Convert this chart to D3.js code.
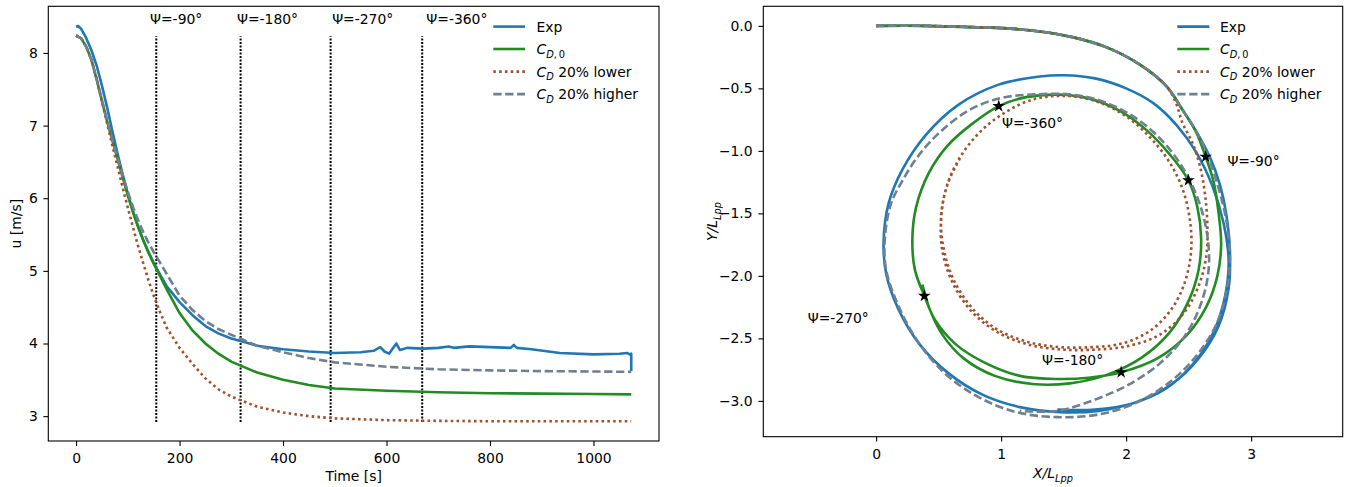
<!DOCTYPE html>
<html>
<head>
<meta charset="utf-8">
<script src="https://cdn.jsdelivr.net/npm/d3@7"></script>
<style>
  body { margin: 0; background: #fff; }
  text { font-family: "DejaVu Sans", sans-serif; }
</style>
</head>
<body>
<svg id="chart" width="1348" height="487"></svg>
<script>
// ---------- surge speed over time ----------
const simT   = [0,10,20,30,40,50,60,70,80,90,100,110,120,130,140,150,160,175,200,225,250,275,300,350,400,450,500,600,700,800,900,1000,1073];
const cd0U   = [8.24,8.20,8.08,7.90,7.63,7.34,7.06,6.80,6.54,6.29,6.04,5.81,5.60,5.42,5.25,5.10,4.96,4.75,4.42,4.18,4.00,3.86,3.75,3.60,3.50,3.43,3.38,3.35,3.33,3.315,3.31,3.305,3.30];
const lowU   = [8.24,8.20,8.08,7.90,7.63,7.33,7.03,6.73,6.44,6.15,5.87,5.60,5.34,5.10,4.87,4.66,4.47,4.22,3.94,3.72,3.52,3.37,3.27,3.13,3.05,3.00,2.97,2.945,2.935,2.93,2.93,2.93,2.93];
const highU  = [8.24,8.20,8.08,7.90,7.64,7.35,7.07,6.81,6.56,6.32,6.09,5.88,5.70,5.53,5.39,5.26,5.14,4.96,4.66,4.46,4.31,4.20,4.12,3.97,3.88,3.80,3.74,3.68,3.645,3.63,3.62,3.615,3.61];
const expT   = [0,4,10,20,30,40,50,60,70,80,90,100,110,120,130,140,150,160,175,200,225,250,275,300,325,350,400,450,500,550,575,588,596,605,612,619,626,640,670,700,720,730,760,800,840,846,852,880,935,1000,1050,1065,1070,1073,1073];
const expU   = [8.36,8.37,8.33,8.20,8.03,7.82,7.55,7.25,6.93,6.62,6.33,6.06,5.82,5.61,5.42,5.26,5.11,4.98,4.79,4.57,4.39,4.24,4.14,4.07,4.02,3.97,3.92,3.89,3.87,3.88,3.90,3.95,3.89,3.86,3.93,4.00,3.91,3.94,3.93,3.94,3.96,3.94,3.96,3.95,3.94,3.98,3.94,3.92,3.87,3.85,3.86,3.87,3.85,3.86,3.62];

// heading marks
const psiT      = [155, 318, 492, 669];
const psiLabels = ["Ψ=-90°", "Ψ=-180°", "Ψ=-270°", "Ψ=-360°"];
const psiLabelT = [143, 311, 495, 677];
const psiLabelU = 8.4;
const psiLineU  = [2.92, 8.23];

const timeTicks = [0, 200, 400, 600, 800, 1000];
const uTicks    = [3, 4, 5, 6, 7, 8];

// ---------- trajectories (X/Lpp, Y/Lpp) ----------
const startPath = [[0,0],[0.4,0],[0.77,-0.01],[1.05,-0.02],[1.31,-0.045],[1.57,-0.09],[1.84,-0.17],[2.11,-0.31],[2.32,-0.48]];
const expPath = [[2.45,-0.67],[2.57,-0.86],[2.67,-1.05],[2.75,-1.27],[2.80,-1.5],[2.83,-1.8],[2.82,-2.1],[2.74,-2.4],[2.58,-2.66],[2.36,-2.87],[2.08,-3.01],[1.78,-3.08],[1.47,-3.09],[1.15,-3.05],[0.85,-2.95],[0.58,-2.78],[0.35,-2.55],[0.18,-2.27],[0.08,-1.98],[0.06,-1.72],[0.10,-1.42],[0.21,-1.15],[0.40,-0.87],[0.66,-0.63],[0.98,-0.47],[1.31,-0.405],[1.5,-0.395],[1.75,-0.42],[2.0,-0.5],[2.22,-0.62],[2.40,-0.79],[2.56,-1.01],[2.69,-1.28],[2.78,-1.58],[2.82,-1.88],[2.79,-2.17],[2.70,-2.45],[2.54,-2.7],[2.32,-2.9],[2.05,-3.02],[1.75,-3.07],[1.45,-3.07]];
const cd0Path = [[2.45,-0.67],[2.56,-0.85],[2.636,-1.047],[2.70,-1.25],[2.74,-1.5],[2.76,-1.75],[2.73,-2.0],[2.64,-2.25],[2.48,-2.48],[2.25,-2.66],[1.96,-2.771],[1.7,-2.815],[1.45,-2.825],[1.15,-2.80],[0.88,-2.70],[0.64,-2.55],[0.47,-2.35],[0.386,-2.16],[0.31,-1.95],[0.29,-1.7],[0.32,-1.45],[0.42,-1.18],[0.57,-0.96],[0.76,-0.79],[0.981,-0.642],[1.2,-0.57],[1.45,-0.55],[1.7,-0.58],[1.95,-0.68],[2.17,-0.84],[2.35,-1.03],[2.498,-1.235],[2.57,-1.45],[2.60,-1.7],[2.58,-1.95],[2.50,-2.2],[2.35,-2.45],[2.13,-2.65],[1.85,-2.79],[1.55,-2.86],[1.25,-2.865],[0.95,-2.80],[0.70,-2.66],[0.53,-2.47],[0.43,-2.27],[0.37,-2.07]];
const lowPath = [[2.40,-0.62],[2.45,-0.775],[2.53,-0.935],[2.59,-1.12],[2.63,-1.34],[2.65,-1.6],[2.64,-1.85],[2.58,-2.08],[2.46,-2.3],[2.27,-2.47],[2.02,-2.56],[1.75,-2.59],[1.5,-2.59],[1.22,-2.55],[0.97,-2.45],[0.76,-2.28],[0.61,-2.05],[0.53,-1.8],[0.52,-1.55],[0.56,-1.3],[0.66,-1.07],[0.82,-0.86],[1.02,-0.7],[1.25,-0.59],[1.5,-0.56],[1.75,-0.6],[1.98,-0.71],[2.18,-0.88],[2.34,-1.08],[2.45,-1.3],[2.51,-1.55],[2.52,-1.8],[2.47,-2.05],[2.36,-2.27],[2.19,-2.44],[1.97,-2.54],[1.72,-2.57],[1.47,-2.57],[1.22,-2.53],[0.97,-2.43],[0.77,-2.26],[0.62,-2.03],[0.54,-1.78],[0.52,-1.52],[0.57,-1.27],[0.67,-1.06]];
const highPath = [[2.45,-0.67],[2.57,-0.86],[2.66,-1.06],[2.74,-1.3],[2.80,-1.55],[2.83,-1.8],[2.81,-2.08],[2.73,-2.37],[2.57,-2.63],[2.35,-2.85],[2.07,-3.02],[1.77,-3.11],[1.45,-3.13],[1.12,-3.09],[0.82,-2.97],[0.55,-2.78],[0.33,-2.52],[0.17,-2.22],[0.08,-1.95],[0.07,-1.7],[0.12,-1.42],[0.21,-1.24],[0.33,-1.05],[0.50,-0.86],[0.75,-0.67],[1.01,-0.575],[1.28,-0.548],[1.55,-0.548],[1.8,-0.6],[2.05,-0.72],[2.27,-0.9],[2.45,-1.13],[2.58,-1.4],[2.65,-1.68],[2.66,-1.95],[2.60,-2.22],[2.47,-2.48],[2.27,-2.7],[2.02,-2.87],[1.75,-2.99],[1.45,-3.08],[1.15,-3.08]];

const starPts  = [[2.636,-1.047],[1.96,-2.771],[0.386,-2.16],[0.981,-0.642],[2.498,-1.235]];
const trajLabels = ["Ψ=-90°", "Ψ=-180°", "Ψ=-270°", "Ψ=-360°"];
const trajLabelPos = [[2.81,-1.125],[1.328,-2.713],[-0.547,-2.378],[1.007,-0.815]];

const xTicksR = [0, 1, 2, 3];
const yTicksR = [0, -0.5, -1, -1.5, -2, -2.5, -3];

// ---------- styles ----------
const C = { exp: "#1f77b4", cd0: "#228b22", low: "#a0522d", high: "#708090" };
const FS = 13.9;
const LW = 2.6;
const DOT = "2.6,3.2";
const DASH = "8.3,3.6";
const svg = d3.select("#chart");

function padded(lo, hi) { const d = (hi - lo) * 0.05; return [lo - d, hi + d]; }

function styleAxis(g) {
  g.select(".domain").remove();
  g.selectAll(".tick line").attr("stroke", "#000").attr("stroke-width", 1.1);
  g.selectAll(".tick text").attr("fill", "#000").attr("font-size", FS)
    .attr("font-family", "DejaVu Sans, sans-serif");
}

function frame(box) {
  svg.append("rect").attr("x", box.x0).attr("y", box.y0)
    .attr("width", box.x1 - box.x0).attr("height", box.y1 - box.y0)
    .attr("fill", "none").attr("stroke", "#000").attr("stroke-width", 1.1);
}

function subLabel(sel, main, sub) {
  sel.append("tspan").attr("font-style", "italic").text(main);
  sel.append("tspan").attr("dy", 3.6).attr("font-size", 9.8).attr("font-style", "italic").text(sub);
}

// ================= left panel =================
const L = { x0: 48.3, x1: 659, y0: 6.3, y1: 441 };
const tAll = simT.concat(expT);
const uAll = cd0U.concat(lowU, highU, expU);
const xL = d3.scaleLinear().domain(padded(d3.min(tAll), d3.max(tAll))).range([L.x0, L.x1]);
const yL = d3.scaleLinear().domain(padded(d3.min(uAll), d3.max(uAll))).range([L.y1, L.y0]);

svg.append("g").attr("transform", `translate(0,${L.y1})`)
  .call(d3.axisBottom(xL).tickValues(timeTicks).tickSize(4.9).tickPadding(7.2).tickFormat(d3.format("d")))
  .call(styleAxis);
svg.append("g").attr("transform", `translate(${L.x0},0)`)
  .call(d3.axisLeft(yL).tickValues(uTicks).tickSize(4.9).tickPadding(5.5).tickFormat(d3.format("d")))
  .call(styleAxis);

const lineL = (ts, us) => d3.line().x((d, i) => xL(ts[i])).y((d, i) => yL(us[i]))(us);

const gL = svg.append("g");
// heading markers
psiT.forEach((t, i) => {
  gL.append("line").attr("x1", xL(t)).attr("x2", xL(t))
    .attr("y1", yL(psiLineU[0])).attr("y2", yL(psiLineU[1]))
    .attr("stroke", "#000").attr("stroke-width", 2).attr("stroke-dasharray", "2,1.5");
  gL.append("text").attr("x", xL(psiLabelT[i])).attr("y", yL(psiLabelU))
    .attr("font-size", FS).attr("fill", "#000").text(psiLabels[i]);
});

gL.append("path").attr("d", lineL(expT, expU)).attr("fill", "none")
  .attr("stroke", C.exp).attr("stroke-width", LW).attr("stroke-linejoin", "round");
gL.append("path").attr("d", lineL(simT, cd0U)).attr("fill", "none")
  .attr("stroke", C.cd0).attr("stroke-width", LW);
gL.append("path").attr("d", lineL(simT, lowU)).attr("fill", "none")
  .attr("stroke", C.low).attr("stroke-width", LW).attr("stroke-dasharray", DOT);
gL.append("path").attr("d", lineL(simT, highU)).attr("fill", "none")
  .attr("stroke", C.high).attr("stroke-width", LW).attr("stroke-dasharray", DASH);

frame(L);

svg.append("text").attr("x", (L.x0 + L.x1) / 2).attr("y", 480.5).attr("text-anchor", "middle")
  .attr("font-size", FS).attr("fill", "#000").text("Time [s]");
svg.append("text").attr("transform", `translate(20.5,${(L.y0 + L.y1) / 2}) rotate(-90)`)
  .attr("text-anchor", "middle").attr("font-size", FS).attr("fill", "#000").text("u [m/s]");

// ================= right panel =================
const R = { x0: 763.3, x1: 1342.7, y0: 6.3, y1: 436.7 };
const allPts = startPath.concat(expPath, cd0Path, lowPath, highPath);
const yDom = padded(d3.min(allPts, d => d[1]), d3.max(allPts, d => d[1]));
const k = (R.y1 - R.y0) / (yDom[1] - yDom[0]);           // equal aspect
const xMid = (d3.min(allPts, d => d[0]) + d3.max(allPts, d => d[0])) / 2;
const halfX = (R.x1 - R.x0) / k / 2;
const xR = d3.scaleLinear().domain([xMid - halfX, xMid + halfX]).range([R.x0, R.x1]);
const yR = d3.scaleLinear().domain(yDom).range([R.y1, R.y0]);

svg.append("g").attr("transform", `translate(0,${R.y1})`)
  .call(d3.axisBottom(xR).tickValues(xTicksR).tickSize(4.9).tickPadding(7.2).tickFormat(d3.format("d")))
  .call(styleAxis);
svg.append("g").attr("transform", `translate(${R.x0},0)`)
  .call(d3.axisLeft(yR).tickValues(yTicksR).tickSize(4.9).tickPadding(5.8).tickFormat(d3.format(".1f")))
  .call(styleAxis);

const lineR = d3.line().x(d => xR(d[0])).y(d => yR(d[1])).curve(d3.curveCatmullRom.alpha(0.5));
const gR = svg.append("g");
gR.append("path").attr("d", lineR(startPath.concat(expPath))).attr("fill", "none")
  .attr("stroke", C.exp).attr("stroke-width", LW);
gR.append("path").attr("d", lineR(startPath.concat(cd0Path))).attr("fill", "none")
  .attr("stroke", C.cd0).attr("stroke-width", LW);
gR.append("path").attr("d", lineR(startPath.concat(lowPath))).attr("fill", "none")
  .attr("stroke", C.low).attr("stroke-width", LW).attr("stroke-dasharray", DOT);
gR.append("path").attr("d", lineR(startPath.concat(highPath))).attr("fill", "none")
  .attr("stroke", C.high).attr("stroke-width", LW).attr("stroke-dasharray", DASH);

gR.selectAll("path.star").data(starPts).join("path").attr("class", "star")
  .attr("transform", d => `translate(${xR(d[0])},${yR(d[1])})`)
  .attr("d", d3.symbol(d3.symbolStar).size(50)).attr("fill", "#000");

trajLabels.forEach((s, i) => {
  gR.append("text").attr("x", xR(trajLabelPos[i][0])).attr("y", yR(trajLabelPos[i][1]))
    .attr("font-size", FS).attr("fill", "#000").text(s);
});

frame(R);

const xl = svg.append("text").attr("x", (R.x0 + R.x1) / 2).attr("y", 478.3)
  .attr("text-anchor", "middle").attr("font-size", FS).attr("fill", "#000");
subLabel(xl, "X/L", "Lpp");
const yl = svg.append("text").attr("transform", `translate(717,${(R.y0 + R.y1) / 2}) rotate(-90)`)
  .attr("text-anchor", "middle").attr("font-size", FS).attr("fill", "#000");
subLabel(yl, "Y/L", "Lpp");

// ================= legends =================
const legendItems = [
  { key: "exp",  dash: null },
  { key: "cd0",  dash: null },
  { key: "low",  dash: DOT },
  { key: "high", dash: DASH }
];
function legend(xLine0, xLine1, xText) {
  const rows = [26.6, 49, 71.6, 94.1];
  legendItems.forEach((it, i) => {
    svg.append("line").attr("x1", xLine0).attr("x2", xLine1).attr("y1", rows[i]).attr("y2", rows[i])
      .attr("stroke", C[it.key]).attr("stroke-width", LW)
      .attr("stroke-dasharray", it.dash);
    const t = svg.append("text").attr("x", xText).attr("y", rows[i] + 5).attr("font-size", FS).attr("fill", "#000");
    if (it.key === "exp") t.text("Exp");
    else if (it.key === "cd0") {
      t.append("tspan").attr("font-style", "italic").text("C");
      t.append("tspan").attr("dy", 3.6).attr("font-size", 9.8).attr("font-style", "italic").text("D");
      t.append("tspan").attr("font-size", 9.8).text(",\u20090");
    } else {
      t.append("tspan").attr("font-style", "italic").text("C");
      t.append("tspan").attr("dy", 3.6).attr("font-size", 9.8).attr("font-style", "italic").text("D");
      t.append("tspan").attr("dy", -3.6).text(it.key === "low" ? " 20% lower" : " 20% higher");
    }
  });
}
legend(493.3, 525, 536.5);
legend(1177.3, 1209.3, 1220);
</script>
</body>
</html>
